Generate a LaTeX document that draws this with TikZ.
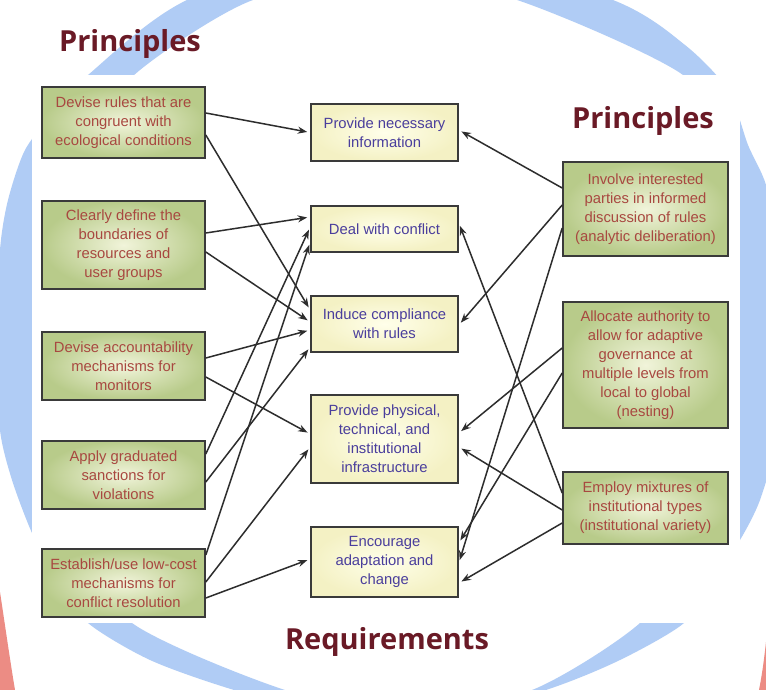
\documentclass[tikz,border=0pt]{standalone}
\usepackage{fontspec}
\setmainfont{Liberation Sans}
\newfontfamily\headfont{Open Sans}
\usetikzlibrary{arrows.meta}

\definecolor{ringblue}{RGB}{176,204,245}
\definecolor{cornerred}{RGB}{236,140,132}
\definecolor{headred}{RGB}{106,26,38}
\definecolor{boxline}{RGB}{58,58,58}
\definecolor{greenin}{RGB}{241,244,218}
\definecolor{greenout}{RGB}{184,203,138}
\definecolor{yellowin}{RGB}{255,255,234}
\definecolor{yellowout}{RGB}{244,241,196}
\definecolor{printext}{RGB}{168,72,64}
\definecolor{reqtext}{RGB}{74,62,156}
\definecolor{arrowgray}{RGB}{45,45,45}

\tikzset{
  principle/.style={draw=boxline, line width=1.6pt, inner color=greenin, outer color=greenout,
    text=printext, align=center, inner sep=0pt, font=\fontsize{14.8}{19}\selectfont},
  requirement/.style={draw=boxline, line width=1.6pt, inner color=yellowin, outer color=yellowout,
    text=reqtext, align=center, inner sep=0pt, font=\fontsize{14.8}{19}\selectfont},
  heading/.style={text=headred, font=\headfont\bfseries\fontsize{29}{34}\selectfont, anchor=base, inner sep=0pt},
  link/.style={draw=arrowgray, line width=1.5pt, -{Stealth[length=9.5pt,width=7pt]}, shorten >=3pt}
}

\begin{document}
\begin{tikzpicture}[x=1pt,y=-1pt]
	\useasboundingbox (0,0) rectangle (766,690);

	% slide background
	\begin{scope}
		\clip (0,0) rectangle (766,690);
		\fill[white] (0,0) rectangle (766,690);
		\fill[ringblue, even odd rule]
			plot[smooth cycle, tension=0.45] coordinates {(395,-70) (613,0) (685,45) (728,90) (748,145) (766,185) (778,250) (782,345) (776,440) (760,500) (740,540) (712,580) (684,623) (620,660) (546,690) (395,735) (234,690) (150,660) (88,623) (57,580) (32,533) (12,480) (0,430) (-3,345) (0,250) (8,200) (25,150) (55,110) (88,75) (187,0)}
			plot[smooth cycle, tension=0.45] coordinates {(390,-20) (517,0) (683,75) (718,150) (735,250) (738,345) (730,450) (700,540) (640,623) (532,690) (410,712) (285,690) (132,623) (70,533) (45,440) (40,345) (45,250) (70,150) (140,70) (253,0)};
		\fill[cornerred] (0,592) .. controls (5,625) and (10,660) .. (15,690) -- (0,690) -- cycle;
		\fill[cornerred] (766,642) .. controls (764,660) and (762,675) .. (759,690) -- (766,690) -- cycle;
		\fill[white] (32,75) rectangle (740,623);
	\end{scope}

	\node[heading] (ptl) at (130,52) {Principles};
	\node[heading] (ptr) at (643,129) {Principles};
	\node[heading] (req) at (387,649) {Requirements};

	% principles, left
	\node[principle, minimum width=163pt, minimum height=71pt] (l1) at (123.5,122.5) {Devise rules that are\\congruent with\\ecological conditions};
	\node[principle, minimum width=163pt, minimum height=88pt] (l2) at (123.5,245) {Clearly define the\\boundaries of\\resources and\\user groups};
	\node[principle, minimum width=163pt, minimum height=68pt] (l3) at (123.5,366) {Devise accountability\\mechanisms for\\monitors};
	\node[principle, minimum width=163pt, minimum height=68pt] (l4) at (123.5,475) {Apply graduated\\sanctions for\\violations};
	\node[principle, minimum width=163pt, minimum height=68pt] (l5) at (123.5,583) {Establish/use low-cost\\mechanisms for\\conflict resolution};

	% requirements
	\node[requirement, minimum width=147pt, minimum height=57pt] (c1) at (384.5,132.5) {Provide necessary\\information};
	\node[requirement, minimum width=147pt, minimum height=46pt] (c2) at (384.5,229) {Deal with conflict};
	\node[requirement, minimum width=147pt, minimum height=56pt] (c3) at (384.5,324) {Induce compliance\\with rules};
	\node[requirement, minimum width=147pt, minimum height=88pt] (c4) at (384.5,439) {Provide physical,\\technical, and\\institutional\\infrastructure};
	\node[requirement, minimum width=147pt, minimum height=70pt] (c5) at (384.5,562) {Encourage\\adaptation and\\change};

	% principles, right
	\node[principle, minimum width=165pt, minimum height=94pt] (r1) at (645.5,209) {Involve interested\\parties in informed\\discussion of rules\\(analytic deliberation)};
	\node[principle, minimum width=165pt, minimum height=126pt] (r2) at (645.5,365) {Allocate authority to\\allow for adaptive\\governance at\\multiple levels from\\local to global\\(nesting)};
	\node[principle, minimum width=165pt, minimum height=72pt] (r3) at (645.5,508) {Employ mixtures of\\institutional types\\(institutional variety)};

	% left links
	\draw[link] ([yshift=9.5pt]l1.east) -- (c1.west);
	\draw[link] ([yshift=-12.5pt]l1.east) -- ([yshift=14pt]c3.west);
	\draw[link] ([yshift=12pt]l2.east) -- ([yshift=12pt]c2.west);
	\draw[link] ([yshift=-7pt]l2.east) -- ([yshift=2pt]c3.west);
	\draw[link] ([yshift=8pt]l3.east) -- ([yshift=-6pt]c3.west);
	\draw[link] ([yshift=-11pt]l3.east) -- ([yshift=5pt]c4.west);
	\draw[link] ([yshift=21pt]l4.east) -- ([yshift=2pt]c2.west);
	\draw[link] ([yshift=-7pt]l4.east) -- ([yshift=-23pt]c3.west);
	\draw[link] ([yshift=28pt]l5.east) -- ([yshift=-13pt]c2.west);
	\draw[link] ([yshift=1pt]l5.east) -- ([yshift=-8pt]c4.west);
	\draw[link] ([yshift=-15pt]l5.east) -- ([yshift=3pt]c5.west);

	% right links
	\draw[link] ([yshift=21pt]r1.west) -- ([yshift=2.5pt]c1.east);
	\draw[link] ([yshift=4pt]r1.west) -- ([yshift=-1pt]c3.east);
	\draw[link] ([yshift=-19pt]r1.west) -- ([yshift=-1pt]c5.east);
	\draw[link] ([yshift=17pt]r2.west) -- ([yshift=6pt]c4.east);
	\draw[link] ([yshift=-8pt]r2.west) -- ([yshift=19pt]c5.east);
	\draw[link] ([yshift=15pt]r3.west) -- ([yshift=6pt]c2.east);
	\draw[link] ([yshift=-2pt]r3.west) -- ([yshift=-8pt]c4.east);
	\draw[link] ([yshift=-15pt]r3.west) -- ([yshift=-21pt]c5.east);
\end{tikzpicture}
\end{document}
